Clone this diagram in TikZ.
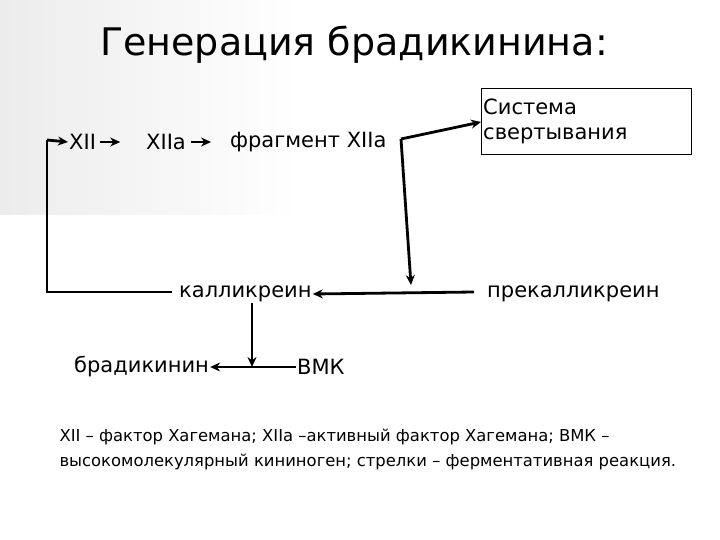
\documentclass[tikz,border=0pt]{standalone}
\usepackage{fontspec}
\usetikzlibrary{arrows.meta}
\setmainfont{DejaVu Sans}
\begin{document}
\begin{tikzpicture}[x=1pt,y=-1pt,
  lbl/.style={font=\fontsize{21}{25}\selectfont,inner sep=1pt},
  arr/.style={-{Stealth[length=10pt,width=9pt]},line width=2.8pt},
  ln/.style={line width=2.8pt}]
\useasboundingbox (0,0) rectangle (720,540);
\shade[left color=gray!15,right color=white] (0,0) rectangle (300,215);
\node[font=\fontsize{38}{42}\selectfont] (title) at (354,45) {Генерация брадикинина:};
\node[lbl,anchor=west] (xii) at (68,142) {XII};
\node[lbl,anchor=west] (xiia) at (145,142) {XIIa};
\node[lbl,anchor=west] (frag) at (229,142) {фрагмент XIIa};
\node[draw,line width=0.7pt,anchor=north west,minimum width=210,minimum height=66,inner sep=0pt] (box) at (481,88) {};
\node[lbl,anchor=west,align=left] (sys) at (482,121) {Система\\свертывания};
\node[lbl,anchor=west] (kal) at (178,294) {калликреин};
\node[lbl,anchor=west] (prek) at (486,294) {прекалликреин};
\node[lbl,anchor=west] (brad) at (73,367) {брадикинин};
\node[lbl,anchor=west] (vmk) at (296,367) {ВМК};
\node[anchor=north west,align=left,font=\fontsize{16.4}{25}\selectfont] (note) at (56,426) {XII – фактор Хагемана; XIIa –активный фактор Хагемана; ВМК –\\высокомолекулярный кининоген; стрелки – ферментативная реакция.};
\coordinate (s) at (401,139);
\coordinate (d) at (411,285);
\coordinate (p1) at (474,292);
\coordinate (k1) at (172,292);
\coordinate (c1) at (47,292);
\coordinate (c2) at (47,140);
\coordinate (m) at (252,367);
\draw[arr] (xii.east)++(3,0) -- ++(20,0);
\draw[arr] (xiia.east)++(4,0) -- ++(20,0);
\draw[arr] (s) -- (box.west |- 0,122);
\draw[arr] (s) -- (d);
\draw[arr] (p1) -- (kal.east);
\draw[ln] (k1) -- (c1) -- (c2);
\draw[arr] (c2) -- (xii.west);
\draw[arr] (kal.south -| m) -- (m);
\draw[arr] (vmk.west) -- (brad.east);
\end{tikzpicture}
\end{document}
